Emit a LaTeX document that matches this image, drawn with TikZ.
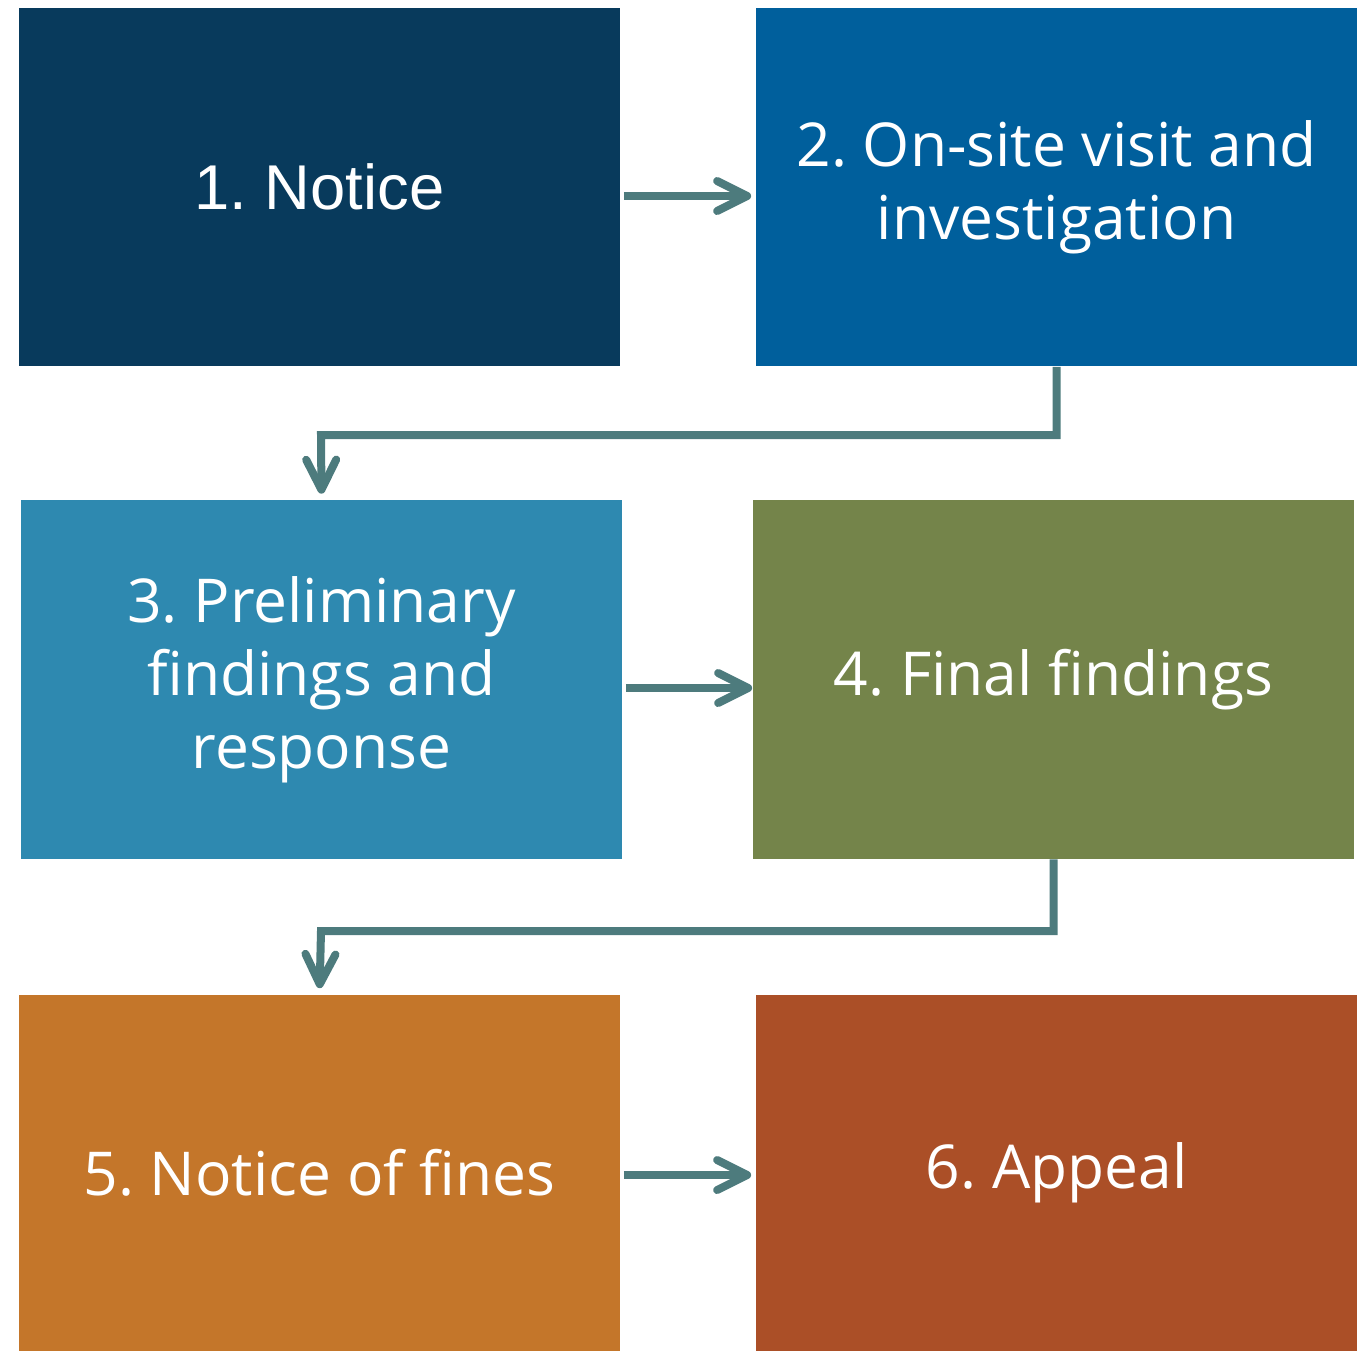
\documentclass[tikz,border=0pt]{standalone}
\usepackage{fontspec}
\setmainfont{Open Sans}
\newfontfamily\arialfont{Liberation Sans}
\usetikzlibrary{arrows.meta}
\definecolor{navyc}{HTML}{083A5C}
\definecolor{bluec}{HTML}{005F9C}
\definecolor{skyc}{HTML}{2E89B0}
\definecolor{olivec}{HTML}{74844A}
\definecolor{ochrec}{HTML}{C4762A}
\definecolor{rustc}{HTML}{AB4F27}
\definecolor{arrowc}{HTML}{4D7B7D}
\frenchspacing
\begin{document}
\begin{tikzpicture}[x=0.01cm,y=-0.01cm,
	stepbox/.style={minimum width=6.01cm,minimum height=3.58cm,inner sep=0pt,text=white,align=center,font=\fontsize{17.2}{20.8}\selectfont},
	flow/.style={draw=arrowc,line width=0.08cm,-{Straight Barb[length=0.3cm,width=0.3cm,round]}}]
	\useasboundingbox (0,0) rectangle (1371,1351);
	\node[stepbox,fill=navyc,font=\arialfont\fontsize{18}{20.8}\selectfont] (notice) at (319.5,187) {1. Notice};
	\node[stepbox,fill=bluec] (visit) at (1056.5,187) {2. On-site visit and\\investigation};
	\node[stepbox,fill=skyc] (prelim) at (321.5,679.5) {3. Preliminary\\findings and\\response};
	\node[stepbox,fill=olivec] (final) at (1053.5,679.5) {4. Final findings};
	\node[stepbox,fill=ochrec,minimum height=3.56cm] (fines) at (319.5,1173) {5. Notice of fines};
	\node[stepbox,fill=rustc,minimum height=3.56cm] (appeal) at (1056.5,1173) {6. Appeal};
	% connectors
	\draw[flow,shorten <=0.03cm,shorten >=0.04cm] (notice.east|-0,196) -- (visit.west|-0,196);
	\draw[flow,shorten <=0.03cm] (prelim.east|-0,688) -- (final.west|-0,688);
	\draw[flow,shorten <=0.03cm,shorten >=0.04cm] (fines.east|-0,1175) -- (appeal.west|-0,1175);
	\draw[flow,shorten >=0.06cm] (visit.south) |- (321,435) -- (prelim.north);
	\draw[flow,shorten >=0.06cm] (final.south) |- (321,931) -- (fines.north);
\end{tikzpicture}
\end{document}
